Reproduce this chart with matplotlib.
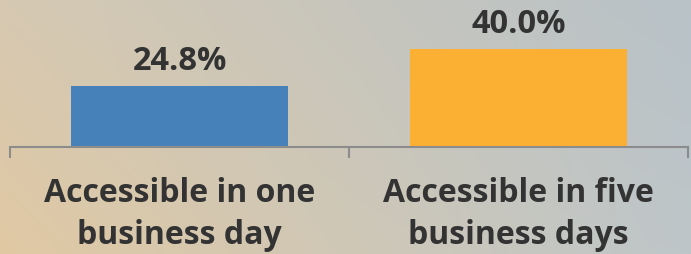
import numpy as np
import matplotlib
matplotlib.use("Agg")
import matplotlib.pyplot as plt

categories = ["Accessible in one\nbusiness day", "Accessible in five\nbusiness days"]
values = [24.8, 40.0]
value_labels = ["24.8%", "40.0%"]
bar_colors = ["#4682b9", "#fbb034"]

W, H = 691, 255
fig = plt.figure(figsize=(W / 100, H / 100), dpi=100)

# background gradient (bilinear from four corners)
tl = np.array([0xd6, 0xc9, 0xb2]) / 255
tr = np.array([0xb8, 0xc2, 0xc8]) / 255
bl = np.array([0xe1, 0xc9, 0xa3]) / 255
br = np.array([0xbe, 0xc6, 0xc9]) / 255
xs = np.linspace(0, 1, W)[None, :, None]
ys = np.linspace(0, 1, H)[:, None, None]
img = (1 - ys) * ((1 - xs) * tl + xs * tr) + ys * ((1 - xs) * bl + xs * br)
bg = fig.add_axes([0, 0, 1, 1])
bg.imshow(img, aspect="auto", extent=[0, 1, 0, 1], origin="upper")
bg.axis("off")

ax = fig.add_axes([10 / W, (H - 147.5) / H, 678 / W, 147.5 / H])
ax.patch.set_alpha(0)
x = np.arange(len(values))
bars = ax.bar(x, values, width=0.64, color=bar_colors)
ax.set_xlim(-0.5, 1.5)
ax.set_ylim(0, 60.5)

font = "Open Sans"
for xi, v, lab in zip(x, values, value_labels):
    ax.annotate(lab, (xi, v), xytext=(0, 12), textcoords="offset points",
                ha="center", va="baseline", fontsize=23.5, fontweight="bold",
                color="#333333", family=font)

ax.set_xticks([-0.5, 0.5, 1.5])
ax.set_xticklabels([])
ax.set_xticks(x, minor=True)
ax.set_xticklabels(categories, minor=True, fontsize=23, fontweight="bold",
                   color="#333333", family=font, linespacing=1.33)
ax.tick_params(axis="x", which="major", length=8, width=1.5, color="#8c8c8c", direction="out")
ax.tick_params(axis="x", which="minor", length=0, pad=21.5)
ax.set_yticks([])
for s in ["top", "right", "left"]:
    ax.spines[s].set_visible(False)
ax.spines["bottom"].set_color("#8c8c8c")
ax.spines["bottom"].set_linewidth(1.5)

fig.savefig("out.png", dpi=100)
